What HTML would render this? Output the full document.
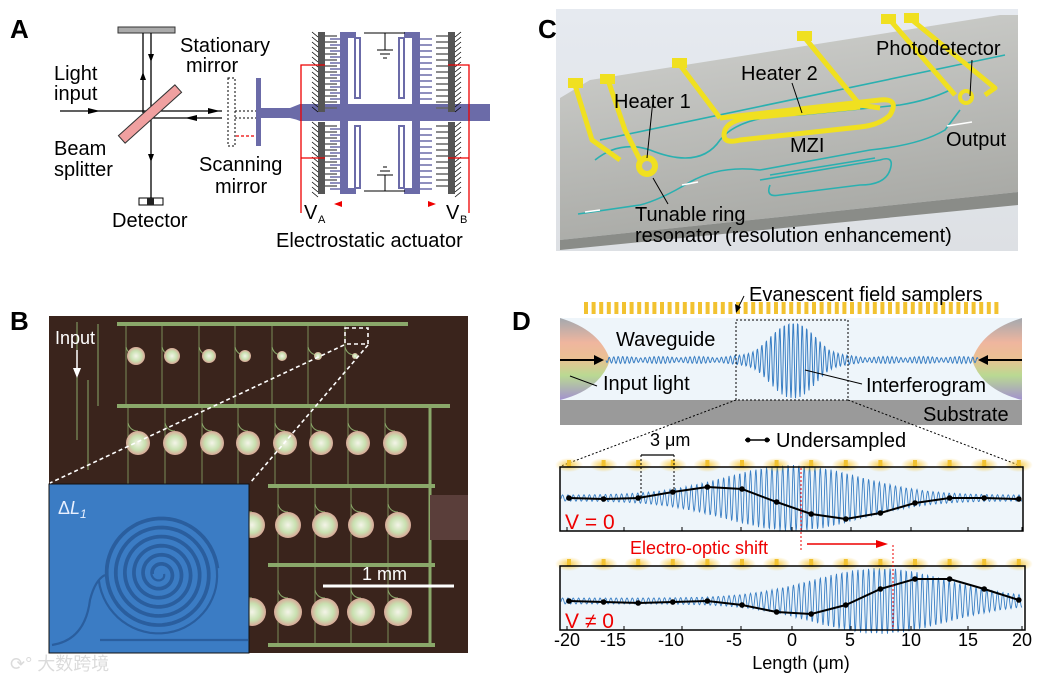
<!DOCTYPE html>
<html><head><meta charset="utf-8">
<style>
html,body{margin:0;padding:0;background:#fff;}
svg{display:block;font-family:"Liberation Sans","Noto Sans CJK SC",sans-serif;}
</style></head>
<body>
<svg id="s" width="1040" height="683" viewBox="0 0 1040 683" xmlns="http://www.w3.org/2000/svg">
<defs>
<linearGradient id="cbg" x1="0" y1="0" x2="0" y2="1"><stop offset="0" stop-color="#e6eaf0"/><stop offset="1" stop-color="#dde0e4"/></linearGradient>
<linearGradient id="chip" x1="0" y1="0" x2="0.3" y2="1"><stop offset="0" stop-color="#d2d3d0"/><stop offset="1" stop-color="#a9aaa6"/></linearGradient>
<linearGradient id="ftop" x1="0" y1="0" x2="0" y2="1"><stop offset="0" stop-color="#8a8f96"/><stop offset="0.3" stop-color="#f0a080"/><stop offset="0.5" stop-color="#e8b070"/><stop offset="0.7" stop-color="#a8d070"/><stop offset="1" stop-color="#8a70c0"/></linearGradient>
<radialGradient id="glow"><stop offset="0" stop-color="#f5c020" stop-opacity="0.8"/><stop offset="1" stop-color="#f5c020" stop-opacity="0"/></radialGradient>
<radialGradient id="disc"><stop offset="0" stop-color="#f4f4e8"/><stop offset="0.6" stop-color="#c8e0b0"/><stop offset="1" stop-color="#d8a898"/></radialGradient>
</defs>

<!-- ===== Panel A ===== -->
<text x="10" y="38" font-size="26" font-weight="bold">A</text>
<rect x="118" y="27" width="57" height="6" fill="#aaa" stroke="#333" stroke-width="1"/>
<line x1="143" y1="33" x2="143" y2="113" stroke="#000" stroke-width="1.3"/>
<line x1="151" y1="33" x2="151" y2="200" stroke="#000" stroke-width="1.3"/>
<polygon points="143,72 140,80 146,80" fill="#000"/>
<polygon points="151,62 148,54 154,54" fill="#000"/>
<polygon points="151,162 148,154 154,154" fill="#000"/>
<line x1="60" y1="111" x2="222" y2="111" stroke="#000" stroke-width="1.3"/>
<line x1="150" y1="118" x2="222" y2="118" stroke="#000" stroke-width="1.3"/>
<polygon points="100,111 88,108 88,114" fill="#000"/>
<polygon points="220,111 208,108 208,114" fill="#000"/>
<polygon points="185,118 197,115 197,121" fill="#000"/>
<rect x="112" y="109" width="76" height="10" fill="#f0a0a0" stroke="#333" stroke-width="1" transform="rotate(-42 150 114)"/>
<rect x="139" y="198" width="24" height="7" fill="#fff" stroke="#000" stroke-width="1"/>
<rect x="147" y="198" width="7" height="7" fill="#222"/>
<rect x="228" y="78" width="7" height="68" fill="none" stroke="#000" stroke-dasharray="2,2"/>
<line x1="235" y1="111" x2="258" y2="111" stroke="#000" stroke-dasharray="2,2"/>
<line x1="235" y1="118" x2="258" y2="118" stroke="#000" stroke-dasharray="2,2"/>
<line x1="236" y1="136" x2="256" y2="136" stroke="#e00" stroke-width="1.2" stroke-dasharray="3,2"/>
<rect x="256" y="78" width="5" height="68" fill="#6b6ba8"/>
<path d="M260,108 L290,108 Q295,106 300,104 L490,104 L490,121 L300,121 Q295,119 290,118 L260,118 Z" fill="#6b6ba8"/>
<g id="act"></g>
<g font-size="20">
<text x="180" y="52">Stationary</text>
<text x="186" y="72">mirror</text>
<text x="54" y="80">Light</text>
<text x="54" y="100">input</text>
<text x="54" y="155">Beam</text>
<text x="54" y="176">splitter</text>
<text x="112" y="227">Detector</text>
<text x="199" y="171">Scanning</text>
<text x="215" y="193">mirror</text>
<text x="304" y="219">V</text>
<text x="446" y="219">V</text>
<text x="276" y="247">Electrostatic actuator</text>
</g>
<text x="318" y="223" font-size="11">A</text><text x="460" y="223" font-size="11">B</text>

<!-- ===== Panel C ===== -->
<text x="538" y="38" font-size="26" font-weight="bold">C</text>
<rect x="556" y="9" width="462" height="242" fill="url(#cbg)"/>
<polygon points="560,98 590,80 1000,15 1018,15 1018,192 560,240" fill="url(#chip)"/>
<polygon points="560,240 1018,192 1018,205 560,250" fill="#8a8c88"/>
<g fill="none" stroke="#2ab0b0" stroke-width="1.6">
<path d="M578,214 L640,205 Q660,200 690,182 Q720,165 760,170 L870,150 Q920,145 945,130 L960,110"/>
<path d="M600,140 L1005,55"/>
<path d="M595,160 Q620,140 650,150 Q700,170 720,140 Q740,115 800,115 L900,105 Q930,100 950,90"/>
<path d="M760,180 L880,160 Q895,155 890,170 Q885,185 860,185 L780,195 Q765,198 770,185"/>
<path d="M770,175 L875,158"/>
</g>
<g fill="none" stroke="#f0e020" stroke-width="5" stroke-linejoin="round">
<path d="M575,85 L592,140 L620,160"/>
<path d="M608,80 L625,130 L640,160"/>
<path d="M680,65 L720,118"/>
<path d="M805,38 L860,105 L880,108"/>
<path d="M720,118 L880,100 Q900,98 890,115 Q880,125 860,127 L740,140 Q720,145 725,130 Q730,118 760,117 L860,107"/>
<path d="M890,20 L955,95"/>
<path d="M912,20 L995,88 L985,95"/>
</g>
<rect x="568" y="78" width="15" height="10" fill="#f0e020"/>
<rect x="600" y="74" width="15" height="10" fill="#f0e020"/>
<rect x="672" y="58" width="15" height="10" fill="#f0e020"/>
<rect x="797" y="31" width="15" height="10" fill="#f0e020"/>
<rect x="881" y="14" width="15" height="10" fill="#f0e020"/>
<rect x="904" y="13" width="15" height="10" fill="#f0e020"/>
<circle cx="647" cy="166" r="8" fill="none" stroke="#f0e020" stroke-width="6"/>
<circle cx="966" cy="97" r="6" fill="none" stroke="#f0e020" stroke-width="4"/>
<g fill="#000" font-size="20">
<text x="614" y="108">Heater 1</text>
<text x="741" y="80">Heater 2</text>
<text x="876" y="55">Photodetector</text>
<text x="790" y="152">MZI</text>
<text x="946" y="146">Output</text>
<text x="635" y="221">Tunable ring</text>
<text x="635" y="242">resonator (resolution enhancement)</text>
</g>
<line x1="653" y1="100" x2="647" y2="158" stroke="#000"/>
<line x1="792" y1="83" x2="802" y2="113" stroke="#000"/>
<line x1="972" y1="60" x2="970" y2="96" stroke="#000"/>
<line x1="653" y1="178" x2="668" y2="204" stroke="#000"/>
<g stroke="#fff" stroke-width="1.5"><line x1="585" y1="212" x2="600" y2="210"/><line x1="682" y1="185" x2="698" y2="182"/><line x1="947" y1="126" x2="972" y2="122"/></g>

<!-- ===== Panel B ===== -->
<text x="10" y="330" font-size="26" font-weight="bold">B</text>
<rect x="49" y="316" width="419" height="337" fill="#3a241c"/>
<g id="bgrid"></g>
<rect x="430" y="495" width="38" height="45" fill="#5a3e3a"/>
<rect x="49" y="484" width="200" height="169" fill="#3b7cc4" stroke="#111" stroke-width="1"/>
<g id="spiral" fill="none" stroke="#2a5e9e" stroke-width="2.2"></g>
<path d="M52,645 Q85,640 90,600 Q95,580 105,575" fill="none" stroke="#2a5e9e" stroke-width="2.2"/>
<line x1="100" y1="640" x2="248" y2="640" stroke="#2a5e9e" stroke-width="2.2"/>
<text x="58" y="514" font-size="18" fill="#e8f0ff">Δ<tspan font-style="italic">L</tspan><tspan font-size="12" dy="4" font-style="italic">1</tspan></text>
<g stroke="#fff" stroke-width="1.6" stroke-dasharray="4,3" fill="none">
<rect x="345" y="328" width="23" height="16"/>
<line x1="344" y1="345" x2="50" y2="483"/>
<line x1="368" y1="345" x2="250" y2="483"/>
</g>
<text x="55" y="344" font-size="18" fill="#fff">Input</text>
<line x1="77" y1="350" x2="77" y2="370" stroke="#fff" stroke-width="1.5"/>
<polygon points="77,378 73,368 81,368" fill="#fff"/>
<line x1="323" y1="586" x2="454" y2="586" stroke="#fff" stroke-width="3"/>
<text x="362" y="580" font-size="18" fill="#fff">1 mm</text>
<text x="10" y="670" font-size="18" fill="#ccc" opacity="0.7">⟳° 大数跨境</text>

<!-- ===== Panel D ===== -->
<text x="512" y="330" font-size="26" font-weight="bold">D</text>
<g id="samp"></g>
<rect x="560" y="318" width="462" height="82" fill="#eef5fa"/>
<rect x="560" y="400" width="462" height="25" fill="#9a9a9a"/>
<path d="M560,318 Q600,330 610,360 Q600,390 560,400 Z" fill="url(#ftop)" opacity="0.75"/>
<path d="M1022,318 Q982,330 972,360 Q982,390 1022,400 Z" fill="url(#ftop)" opacity="0.75"/>
<path id="wg" fill="none" stroke="#3a7fc4" stroke-width="1"/>
<line x1="560" y1="360" x2="598" y2="360" stroke="#000" stroke-width="2"/>
<polygon points="604,360 594,355 594,365" fill="#000"/>
<line x1="984" y1="360" x2="1022" y2="360" stroke="#000" stroke-width="2"/>
<polygon points="978,360 988,355 988,365" fill="#000"/>
<rect x="736" y="320" width="112" height="80" fill="none" stroke="#000" stroke-dasharray="2,2"/>
<g font-size="20">
<text x="616" y="346">Waveguide</text>
<text x="603" y="390">Input light</text>
<text x="866" y="392">Interferogram</text>
<text x="923" y="421">Substrate</text>
<text x="749" y="301">Evanescent field samplers</text>
<text x="776" y="447">Undersampled</text>
</g>
<line x1="570" y1="376" x2="597" y2="386" stroke="#000"/>
<line x1="805" y1="370" x2="862" y2="384" stroke="#000"/>
<line x1="744" y1="296" x2="738" y2="308" stroke="#000"/><polygon points="736,313 735,304 741,307" fill="#000"/>
<line x1="736" y1="400" x2="561" y2="466" stroke="#000" stroke-dasharray="2,2"/>
<line x1="848" y1="400" x2="1021" y2="466" stroke="#000" stroke-dasharray="2,2"/>
<g id="plots"></g>
<rect x="560" y="467" width="463" height="64" fill="none" stroke="#000" stroke-width="1.5"/>
<rect x="560" y="566" width="465" height="64" fill="none" stroke="#000" stroke-width="1.5"/>
<text x="650" y="446" font-size="18">3 μm</text>
<line x1="641" y1="455" x2="674" y2="455" stroke="#000" stroke-width="1.3"/>
<line x1="641" y1="455" x2="641" y2="499" stroke="#000" stroke-dasharray="2,2"/>
<line x1="674" y1="455" x2="674" y2="493" stroke="#000" stroke-dasharray="2,2"/>
<line x1="745" y1="440" x2="770" y2="440" stroke="#000" stroke-width="1.5"/><circle cx="748" cy="440" r="2.5"/><circle cx="767" cy="440" r="2.5"/>
<text x="565" y="529" font-size="21" fill="#e00">V = 0</text>
<text x="565" y="628" font-size="21" fill="#e00">V ≠ 0</text>
<text x="630" y="554" font-size="18" fill="#e00">Electro-optic shift</text>
<line x1="807" y1="544" x2="878" y2="544" stroke="#e00" stroke-width="1.5"/>
<polygon points="888,544 876,540 876,548" fill="#e00"/>
<line x1="801" y1="468" x2="801" y2="550" stroke="#e00" stroke-dasharray="2,2"/>
<line x1="893" y1="545" x2="893" y2="630" stroke="#e00" stroke-dasharray="2,2"/>
<g font-size="18" text-anchor="middle">
<text x="567" y="646">-20</text><text x="613" y="646">-15</text><text x="671" y="646">-10</text><text x="734" y="646">-5</text><text x="792" y="646">0</text><text x="850" y="646">5</text><text x="911" y="646">10</text><text x="968" y="646">15</text><text x="1022" y="646">20</text>
<text x="801" y="669">Length (μm)</text>
</g>
</svg>
<script>
var NS="http://www.w3.org/2000/svg";
function el(p,t,a){var e=document.createElementNS(NS,t);for(var k in a)e.setAttribute(k,a[k]);p.appendChild(e);return e;}
var act=document.getElementById("act");
var col="#6b6ba8";
[[318,32,80],[318,122,72],[448,32,80],[448,122,72]].forEach(function(w){
 el(act,"rect",{x:w[0],y:w[1],width:7,height:w[2],fill:"#555"});
 for(var y=w[1];y<w[1]+w[2];y+=5){var x=w[0]<400?w[0]:w[0]+7;var dx=w[0]<400?-6:6;el(act,"line",{x1:x,y1:y+5,x2:x+dx,y2:y,stroke:"#000","stroke-width":0.8});}
 for(var y2=w[1]+4;y2<w[1]+w[2]-2;y2+=6){var xs=w[0]<400?325:436;el(act,"line",{x1:xs,y1:y2,x2:xs+12,y2:y2,stroke:"#666","stroke-width":1.5});}
});
el(act,"rect",{x:340,y:32,width:8,height:162,fill:col});
el(act,"rect",{x:412,y:32,width:8,height:162,fill:col});
el(act,"rect",{x:340,y:32,width:16,height:6,fill:col});
el(act,"rect",{x:404,y:32,width:16,height:6,fill:col});
el(act,"rect",{x:340,y:188,width:16,height:6,fill:col});
el(act,"rect",{x:404,y:188,width:16,height:6,fill:col});
[[356,38,60],[400,38,60],[356,126,62],[400,126,62]].forEach(function(r){el(act,"rect",{x:r[0]-1,y:r[1],width:5,height:r[2],fill:"none",stroke:col,"stroke-width":2});});
for(var y=36;y<190;y+=6){ if(y>100&&y<124)continue; el(act,"line",{x1:330,y1:y+3,x2:340,y2:y+3,stroke:col,"stroke-width":1.5}); el(act,"line",{x1:420,y1:y+3,x2:432,y2:y+3,stroke:col,"stroke-width":1.5}); }
el(act,"line",{x1:364,y1:33,x2:405,y2:33,stroke:"#000"});
el(act,"line",{x1:385,y1:33,x2:385,y2:50,stroke:"#000"});
el(act,"line",{x1:377,y1:50,x2:393,y2:50,stroke:"#000"});el(act,"line",{x1:380,y1:54,x2:390,y2:54,stroke:"#000"});el(act,"line",{x1:383,y1:58,x2:387,y2:58,stroke:"#000"});
el(act,"line",{x1:364,y1:191,x2:405,y2:191,stroke:"#000"});
el(act,"line",{x1:385,y1:191,x2:385,y2:175,stroke:"#000"});
el(act,"line",{x1:377,y1:175,x2:393,y2:175,stroke:"#000"});el(act,"line",{x1:380,y1:171,x2:390,y2:171,stroke:"#000"});el(act,"line",{x1:383,y1:167,x2:387,y2:167,stroke:"#000"});
el(act,"path",{d:"M325,65 L301,65 L301,213 M301,158 L325,158",fill:"none",stroke:"#e00","stroke-width":1.3});
el(act,"path",{d:"M448,65 L469,65 L469,213 M469,158 L448,158",fill:"none",stroke:"#e00","stroke-width":1.3});
el(act,"polygon",{points:"334,204 342,201 342,207",fill:"#e00"});
el(act,"polygon",{points:"436,204 428,201 428,207",fill:"#e00"});
var g=document.getElementById("bgrid");var gc="#8aa86a";
[[97,324,388],[97,406,430],[248,486,415],[248,565,415],[248,645,415]].forEach(function(b){el(g,"rect",{x:b[0]+20,y:b[1]-2,width:b[2]-b[0],height:4,fill:gc});});
el(g,"line",{x1:430,y1:406,x2:430,y2:645,stroke:gc,"stroke-width":3});
el(g,"path",{d:"M77,322 L77,440 M88,380 L88,470 M98,324 L98,406",stroke:gc,fill:"none","stroke-width":1});
function row(xs,y,r,y0,y1){xs.forEach(function(x){el(g,"line",{x1:x-10,y1:y0,x2:x-10,y2:y1,stroke:gc,"stroke-width":0.8});el(g,"path",{d:"M"+(x-10)+","+(y-r-8)+" Q"+(x-8)+","+(y-r)+" "+x+","+(y-r),stroke:gc,fill:"none"});el(g,"circle",{cx:x,cy:y,r:r,fill:"url(#disc)"});});}
row([136,172,209,245,282,318,355],355,0,326,404);
[[136,9],[172,8],[209,7],[245,6],[282,5],[318,4],[355,3]].forEach(function(c){el(g,"circle",{cx:c[0],cy:356,r:c[1],fill:"url(#disc)"});});
row([138,175,212,248,285,321,358,395],443,12,408,484);
row([252,288,325,361,398],525,13,488,563);
row([252,288,325,361,398],612,14,567,643);
var sp=document.getElementById("spiral");var d="";
for(var t=0;t<=6*2*Math.PI;t+=0.1){var r=4+t*1.45;var x=160+r*Math.cos(t),y=574+r*Math.sin(t);d+=(t==0?"M":"L")+x.toFixed(1)+","+y.toFixed(1);}
el(sp,"path",{d:d});
d="";for(var t=0;t<=6*2*Math.PI;t+=0.1){var r=7+t*1.45;var x=160-r*Math.cos(t),y=574-r*Math.sin(t);d+=(t==0?"M":"L")+x.toFixed(1)+","+y.toFixed(1);}
el(sp,"path",{d:d});
var s=document.getElementById("samp");
for(var x=584;x<1000;x+=7.6)el(s,"rect",{x:x,y:302,width:4,height:12,fill:"#f2c230"});
var d="";for(var x=606;x<=978;x+=0.5){var u=(x-793)/30;var a=2+36*Math.exp(-u*u)+1.5*Math.abs(Math.sin(x/12));d+=(x==606?"M":"L")+x+","+(360+a*Math.sin(x*1.4)).toFixed(1);}
document.getElementById("wg").setAttribute("d",d);
var p=document.getElementById("plots");
function plot(y0,h,cx,samples,yline){
 el(p,"rect",{x:560,y:y0,width:463,height:h,fill:"#eef5fa"});
 var d="";for(var x=561;x<=1022;x+=0.5){var u=(x-cx)/95;var a=3+30*Math.exp(-u*u);d+=(x==561?"M":"L")+x+","+(yline+a*Math.sin(x*1.17)).toFixed(1);}
 el(p,"path",{d:d,fill:"none",stroke:"#3a7fc4","stroke-width":0.9});
 var pts=samples.map(function(v,i){return [569+i*34.6,yline+v];});
 el(p,"polyline",{points:pts.map(function(q){return q.join(",")}).join(" "),fill:"none",stroke:"#000","stroke-width":2});
 pts.forEach(function(q){el(p,"circle",{cx:q[0],cy:q[1],r:2.8});});
 for(var i=0;i<14;i++){el(p,"ellipse",{cx:569+i*34.6,cy:y0-2,rx:14,ry:7,fill:"url(#glow)"});el(p,"rect",{x:567+i*34.6,y:y0-7,width:4,height:7,fill:"#f2c230"});}
}
plot(467,64,793,[0,1,0,-6,-11,-9,4,16,21,15,5,0,0,1],498);
plot(566,64,880,[0,1,2,1,0,4,11,13,4,-12,-22,-22,-12,-1],601);
for(var i=0;i<9;i++){var x=[567,624,682,741,792,851,911,968,1022][i];el(p,"line",{x1:x,y1:626,x2:x,y2:630,stroke:"#000"});el(p,"line",{x1:x,y1:527,x2:x,y2:531,stroke:"#000"});}
</script>
</body></html>
